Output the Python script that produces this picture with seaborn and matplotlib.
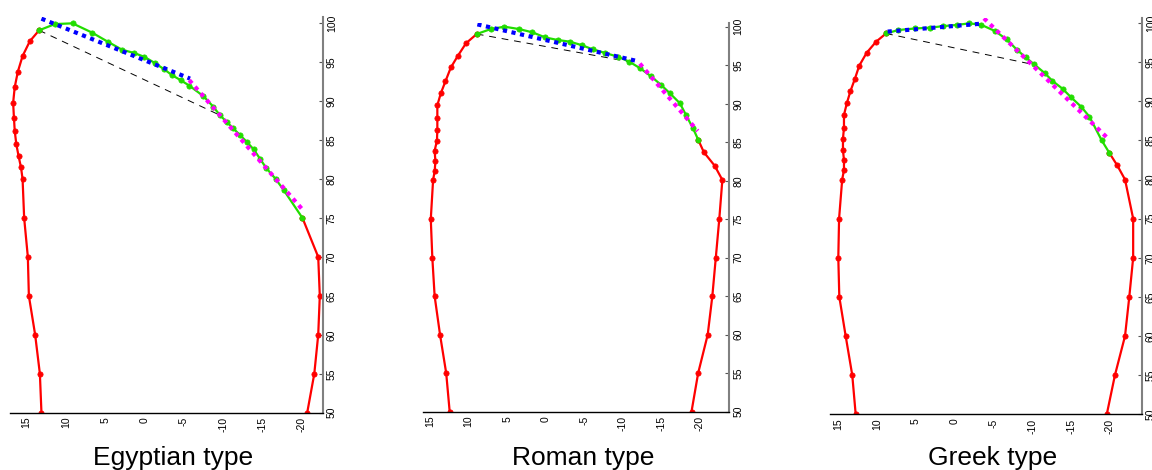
import matplotlib
matplotlib.use("Agg")
import matplotlib.pyplot as plt
import seaborn as sns

sns.set_style("white")
plt.rcParams["font.family"] = ["Liberation Sans", "DejaVu Sans"]
plt.rcParams["text.color"] = "black"
plt.rcParams["xtick.color"] = "black"
plt.rcParams["ytick.color"] = "black"

# ------------------------------------------------------------
# Data: profile outlines (x = horizontal offset, y = height)
# ------------------------------------------------------------
titles = ["Egyptian type", "Roman type", "Greek type"]

# Egyptian
eg_left_x = [13.1, 13.3, 13.9, 14.7, 14.83, 15.3, 15.5, 15.7, 16.0, 16.3, 16.5, 16.6, 16.7, 16.5, 16.1, 15.5, 14.58, 13.4]
eg_left_y = [50, 55, 60, 65, 70, 75, 80.0, 81.5, 82.9, 84.5, 86.2, 87.9, 89.8, 91.8, 93.8, 95.8, 97.7, 99.1]
eg_green_x = [13.4, 11.4, 9.15, 6.65, 4.6, 2.83, 1.34, 0.03, -1.33, -2.5, -3.5, -4.6, -5.7, -7.5, -8.75,
              -9.6, -10.45, -11.2, -12.1, -13.0, -13.9, -14.7, -15.5, -16.7, -17.7, -20.1]
eg_green_y = [99.1, 99.9, 100.0, 98.8, 97.6, 96.6, 96.2, 95.7, 94.9, 94.1, 93.35, 92.7, 92.0, 90.65, 89.3,
              88.2, 87.35, 86.6, 85.7, 84.8, 83.8, 82.6, 81.4, 80.0, 78.6, 75.0]
eg_right_x = [-20.1, -22.1, -22.3, -22.1, -21.6, -20.7]
eg_right_y = [75, 70, 65, 60, 55, 50]
eg_blue_x, eg_blue_y = [13.1, -5.8], [100.6, 92.9]
eg_mag_x, eg_mag_y = [-5.7, -20.0], [92.7, 76.2]
eg_dash_x, eg_dash_y = [13.4, -9.6], [99.1, 88.2]

# Roman
ro_left_x = [12.45, 12.9, 13.7, 14.4, 14.7, 14.9, 14.6, 14.4, 14.3, 14.4, 14.1, 14.05, 14.05, 14.05,
             13.6, 13.0, 12.3, 11.4, 10.33, 8.94]
ro_left_y = [50, 55, 60, 65, 70, 75, 80.1, 81.2, 82.5, 83.9, 85.2, 86.6, 88.1, 89.8,
             91.35, 92.9, 94.7, 96.2, 97.85, 99.05]
ro_green_x = [8.94, 7.1, 5.36, 3.5, 1.73, 0.05, -1.56, -3.16, -4.67, -6.1, -7.66, -9.35, -10.85,
              -12.24, -13.6, -15.0, -16.1, -17.4, -18.2, -19.1, -19.8]
ro_green_y = [99.05, 99.7, 100.0, 99.7, 99.27, 98.6, 98.27, 98.05, 97.6, 97.06, 96.6, 96.1, 95.45,
              94.6, 93.6, 92.4, 91.35, 90.05, 88.5, 86.8, 85.25]
ro_right_x = [-19.8, -20.5, -21.9, -22.9, -22.5, -22.05, -21.6, -21.0, -19.76, -18.9]
ro_right_y = [85.25, 83.7, 81.95, 80.1, 75, 70, 65, 60, 55, 50]
ro_blue_x, ro_blue_y = [8.86, -11.8], [100.3, 95.55]
ro_mag_x, ro_mag_y = [-12.2, -19.7], [95.2, 86.45]
ro_dash_x, ro_dash_y = [8.94, -10.85], [99.05, 95.45]

# Greek
gr_left_x = [12.76, 13.2, 14.05, 14.87, 15.0, 14.9, 14.5, 14.27, 14.27, 14.4, 14.4, 14.27, 14.27,
             13.9, 13.45, 12.85, 12.3, 11.34, 10.14, 8.85]
gr_left_y = [50, 55, 60, 65, 70, 75, 80.0, 81.2, 82.5, 83.75, 85.2, 86.6, 88.25,
             89.75, 91.25, 92.9, 94.55, 96.2, 97.6, 98.66]
gr_green_x = [8.85, 7.27, 5.1, 3.2, 1.47, -0.26, -1.84, -3.35, -5.2, -6.7, -8.0, -9.15, -10.26,
              -11.6, -12.6, -13.9, -15.0, -16.3, -17.35, -18.95, -19.9]
gr_green_y = [98.66, 99.1, 99.3, 99.4, 99.6, 99.75, 99.95, 99.8, 98.97, 97.9, 96.6, 95.6, 94.7,
              93.6, 92.6, 91.6, 90.5, 89.3, 88.05, 85.0, 83.45]
gr_right_x = [-19.9, -20.95, -21.95, -23.0, -23.0, -22.5, -21.95, -20.65, -19.6]
gr_right_y = [83.45, 81.8, 80.0, 75, 70, 65, 60, 55, 50]
gr_blue_x, gr_blue_y = [8.64, -3.26], [98.9, 99.9]
gr_mag_x, gr_mag_y = [-3.77, -19.8], [100.6, 85.2]
gr_dash_x, gr_dash_y = [8.85, -10.1], [98.66, 94.7]

panels = [
    (eg_left_x, eg_left_y, eg_green_x, eg_green_y, eg_right_x, eg_right_y,
     eg_blue_x, eg_blue_y, eg_mag_x, eg_mag_y, eg_dash_x, eg_dash_y),
    (ro_left_x, ro_left_y, ro_green_x, ro_green_y, ro_right_x, ro_right_y,
     ro_blue_x, ro_blue_y, ro_mag_x, ro_mag_y, ro_dash_x, ro_dash_y),
    (gr_left_x, gr_left_y, gr_green_x, gr_green_y, gr_right_x, gr_right_y,
     gr_blue_x, gr_blue_y, gr_mag_x, gr_mag_y, gr_dash_x, gr_dash_y),
]

# axes placement (pixels) and limits
W, H = 1152, 470
boxes = [(10, 322.7, 16.7, 412.7), (423.3, 729.3, 23.3, 411.7), (830, 1141.7, 18.3, 414.3)]
xlims = [(17.1, -22.67), (15.87, -23.8), (16.07, -24.1)]
ylims = [(50, 100.85), (50, 100.44), (50, 100.6)]
xticks = [15, 10, 5, 0, -5, -10, -15, -20]
yticks = [50, 55, 60, 65, 70, 75, 80, 85, 90, 95, 100]

fig = plt.figure(figsize=(W / 100, H / 100), dpi=100)

for i, (data, (l, r, t, b)) in enumerate(zip(panels, boxes)):
    lx, ly, gx, gy, rx, ry, bx, by, mx, my, dx, dy = data
    ax = fig.add_axes([l / W, 1 - b / H, (r - l) / W, (b - t) / H])

    red_kw = dict(color="#ff0000", linewidth=1.6, marker="o", markersize=3.8,
                  markeredgecolor="#ff0000", markeredgewidth=0.5, sort=False, estimator=None, ax=ax)
    sns.lineplot(x=lx, y=ly, **red_kw)
    sns.lineplot(x=rx, y=ry, **red_kw)
    sns.lineplot(x=dx, y=dy, color="black", linewidth=0.7, linestyle=(0, (7, 6)),
                 sort=False, estimator=None, ax=ax)
    sns.lineplot(x=gx, y=gy, color="#22dd00", linewidth=1.6, marker="o", markersize=3.8,
                 markeredgecolor="#22dd00", markeredgewidth=0.5, sort=False, estimator=None, ax=ax)
    sns.lineplot(x=bx, y=by, color="#0000ff", linewidth=3.0, linestyle=(0, (1, 1.1)),
                 sort=False, estimator=None, ax=ax)
    sns.lineplot(x=mx, y=my, color="#ff00ff", linewidth=3.0, linestyle=(0, (1, 1.1)),
                 sort=False, estimator=None, ax=ax)

    ax.set_xlim(*xlims[i])
    ax.set_ylim(*ylims[i])
    ax.set_xticks(xticks)
    ax.set_yticks(yticks)
    ax.set_xticklabels([str(v) for v in xticks], rotation=90, fontsize=7.5)
    ax.set_yticklabels([str(v) for v in yticks], rotation=90, fontsize=7.5, va="center")
    ax.yaxis.tick_right()
    ax.tick_params(axis="both", direction="in", length=3, width=0.8, pad=3, labelcolor="black")
    ax.tick_params(axis="y", colors="#555555", labelcolor="black")
    for side in ["top", "left"]:
        ax.spines[side].set_visible(False)
    ax.spines["bottom"].set_color("black")
    ax.spines["bottom"].set_linewidth(1.0)
    ax.spines["right"].set_color("#808080")
    ax.spines["right"].set_linewidth(1.5)
    ax.set_xlabel("")
    ax.set_ylabel("")
    ax.grid(False)

    cx = (l + r) / 2 + 7
    fig.text(cx / W, 1 - 465 / H, titles[i], ha="center", va="baseline", fontsize=19, color="black")

fig.savefig("out.png", dpi=100)
